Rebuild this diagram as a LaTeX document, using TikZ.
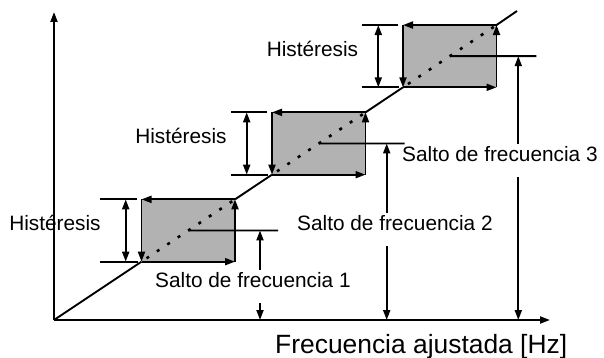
\documentclass[tikz,border=0pt]{standalone}
\usepackage{fontspec}
\setmainfont{Liberation Sans}
\usetikzlibrary{arrows.meta,calc}
\tikzset{
  plain/.style={line width=1.9pt},
  tip/.style={line width=1.9pt, -{Triangle[length=10pt,width=7pt]}},
  dimarrow/.style={line width=1.9pt, {Triangle[length=10pt,width=7pt]}-{Triangle[length=10pt,width=7pt]}},
  lbl/.style={font=\fontsize{20.8}{24}\selectfont, inner sep=0pt},
}

\begin{document}
\begin{tikzpicture}[x=1pt, y=-1pt]
\useasboundingbox (0,0) rectangle (604,358);
\coordinate (o) at (54,320);
\coordinate (ytip) at (54,12);
\coordinate (xtip) at (550,320);
\coordinate (lend) at (517,11);
\draw[tip] (o) -- (ytip);
\draw[tip] (o) -- (xtip);
\node[lbl, font=\fontsize{26.4}{30}\selectfont, anchor=base west] (xlab) at (275,353) {Frecuencia ajustada [Hz]};
\foreach \i/\xl/\hl/\hx/\hc/\vx/\sx/\sy in {1/141.5/100/125.7/55/260/155/287,
                                            2/272/231/246.7/181/386.7/297/230,
                                            3/403/362/378.3/312.5/518.3/402/161}{
  % corners sit on the line through the origin
  \pgfmathsetmacro\yb{320-2/3*(\xl-54)}
  \pgfmathsetmacro\yt{\yb-62.3}
  \coordinate (bl\i) at (\xl,\yb);
  \coordinate (br\i) at (\xl+93.5,\yb);
  \coordinate (tr\i) at (\xl+93.5,\yt);
  \coordinate (tl\i) at (\xl,\yt);
  \coordinate (c\i) at ($(bl\i)!0.5!(tr\i)$);
  \fill[gray!60] (bl\i) rectangle (tr\i);
  \draw[line width=2.6pt, dash pattern=on 3pt off 9.5pt, dash phase=-6pt] (bl\i) -- (tr\i);
  \draw[tip] (bl\i) -- (br\i);
  \draw[tip] (br\i) -- (tr\i);
  \draw[tip] (tr\i) -- (tl\i);
  \draw[tip] (tl\i) -- (bl\i);
  % hysteresis band
  \coordinate (ht\i) at (\hl,\yt);
  \coordinate (hte\i) at (\xl-5,\yt);
  \coordinate (hb\i) at (\hl,\yb);
  \coordinate (hbe\i) at (\xl-4,\yb);
  \coordinate (da\i) at (\hx,\yt);
  \coordinate (db\i) at (\hx,\yb);
  \draw[plain] (ht\i) -- (hte\i);
  \draw[plain] (hb\i) -- (hbe\i);
  \draw[dimarrow] (da\i) -- (db\i);
  \node[lbl, anchor=base] (h\i) at (\hc,\yb-31.2) {Histéresis};
  % frequency jump
  \coordinate (le\i) at (\vx+18,\yb-31.2);
  \draw[plain] (c\i) -- (le\i);
  \node[lbl, anchor=base west] (s\i) at (\sx,\sy) {Salto de frecuencia \i};
  \coordinate (su\i) at (\vx,\sy-17);
  \coordinate (sd\i) at (\vx,\sy+16);
  \draw[tip] (su\i) -- (su\i |- le\i);
  \draw[tip] (sd\i) -- (sd\i |- o);
}
\draw[plain] (o) -- (bl1);
\draw[plain] (tr1) -- (bl2);
\draw[plain] (tr2) -- (bl3);
\draw[plain] (tr3) -- (lend);
\end{tikzpicture}
\end{document}
